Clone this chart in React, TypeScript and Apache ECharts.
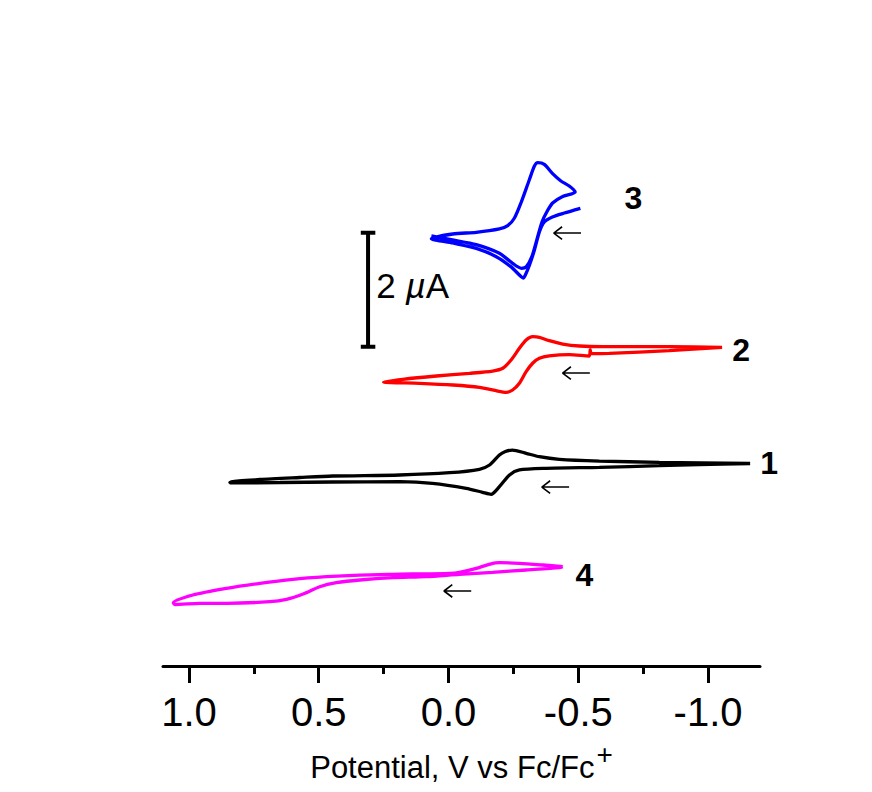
import React, { useEffect, useRef } from "react";
import * as echarts from "echarts";

// Potential (V vs Fc/Fc+) and offset current (µA) for each voltammogram
const POTENTIAL_3 = [-0.508, -0.446, -0.4, -0.369, -0.35, -0.331, -0.312, -0.296, -0.288, -0.277, -0.24, -0.184, -0.107, -0.016, 0.066, -0.016, -0.107, -0.196, -0.228, -0.254, -0.279, -0.311, -0.331, -0.344, -0.369, -0.401, -0.433, -0.465, -0.488, -0.438, -0.401, -0.379, -0.36, -0.34, -0.321, -0.30, -0.281, -0.247, -0.196, -0.107, -0.016, 0.066];
const CURRENT_3 = [8.03, 7.947, 7.877, 7.789, 7.614, 7.298, 7.035, 6.86, 6.807, 6.842, 7.006, 7.181, 7.327, 7.421, 7.497, 7.579, 7.608, 7.667, 7.725, 7.86, 8.123, 8.526, 8.772, 8.83, 8.8, 8.637, 8.509, 8.421, 8.316, 8.234, 8.123, 7.97, 7.79, 7.474, 7.181, 7.006, 6.977, 7.064, 7.24, 7.392, 7.474, 7.544];

const POTENTIAL_2 = [-1.054, -0.85, -0.619, -0.55, -0.546, -0.542, -0.465, -0.388, -0.35, -0.324, -0.299, -0.273, -0.247, -0.222, -0.183, -0.119, -0.017, 0.112, 0.25, 0.176, 0.047, -0.081, -0.17, -0.209, -0.241, -0.273, -0.299, -0.324, -0.35, -0.388, -0.44, -0.504, -0.593, -0.722, -0.85, -1.054];
const CURRENT_2 = [5.591, 5.532, 5.486, 5.482, 5.544, 5.439, 5.461, 5.439, 5.398, 5.311, 5.163, 4.96, 4.842, 4.802, 4.83, 4.889, 4.93, 4.96, 4.982, 5.03, 5.088, 5.135, 5.175, 5.223, 5.368, 5.574, 5.719, 5.777, 5.767, 5.707, 5.649, 5.614, 5.602, 5.602, 5.602, 5.591];

const POTENTIAL_1 = [-1.162, -0.965, -0.812, -0.581, -0.376, -0.273, -0.235, -0.196, -0.164, -0.131, -0.068, 0.062, 0.188, 0.446, 0.65, 0.842, 0.842, 0.727, 0.573, 0.446, 0.188, -0.004, -0.119, -0.158, -0.196, -0.219, -0.246, -0.299, -0.35, -0.427, -0.581, -0.812, -1.162];
const CURRENT_1 = [3.553, 3.535, 3.514, 3.486, 3.468, 3.439, 3.351, 3.146, 3.012, 3.047, 3.118, 3.205, 3.233, 3.228, 3.219, 3.211, 3.228, 3.272, 3.307, 3.333, 3.351, 3.391, 3.451, 3.526, 3.702, 3.763, 3.789, 3.732, 3.672, 3.626, 3.596, 3.574, 3.553];

const POTENTIAL_4 = [-0.44, -0.363, -0.273, -0.196, -0.17, -0.107, -0.042, -0.004, 0.215, 0.342, 0.47, 0.6, 0.727, 0.855, 0.985, 1.06, 1.054, 0.958, 0.855, 0.688, 0.624, 0.56, 0.496, 0.432, 0.342, 0.215, 0.086, -0.042, -0.17, -0.299, -0.427, -0.44];
const CURRENT_4 = [1.742, 1.772, 1.802, 1.812, 1.802, 1.714, 1.644, 1.626, 1.609, 1.596, 1.567, 1.521, 1.451, 1.363, 1.246, 1.111, 1.079, 1.1, 1.1, 1.128, 1.17, 1.263, 1.391, 1.461, 1.509, 1.549, 1.567, 1.609, 1.644, 1.684, 1.725, 1.742];

// Compound labels and scan-direction arrows (data coordinates)
const LABEL_TEXT = ["3", "2", "1", "4"];
const LABEL_X = [-0.712, -1.127, -1.235, -0.523];
const LABEL_Y = [8.211, 5.544, 3.561, 1.59];
const ARROW_X = [-0.458, -0.492, -0.412, -0.035];
const ARROW_Y = [7.596, 5.14, 3.14, 1.316];
const ARROW_LEN = 0.105; // V
const ARROW_HEAD_DX = 0.032; // V
const ARROW_HEAD_DY = 0.11; // µA

// 2 µA scale bar
const SCALE_X = 0.31;
const SCALE_BOTTOM = 5.6;
const SCALE_TOP = 7.6;
const SCALE_CAP = 0.028;
const SCALE_TEXT = "2 {mu|µ}A";

const MAJOR_TICKS = [-1.0, -0.5, 0.0, 0.5, 1.0];
const MINOR_TICKS = [-0.75, -0.25, 0.25, 0.75];
const X_MIN = -1.2;
const X_MAX = 1.1;

const FONT = "Liberation Sans, Arial, sans-serif";

const zip = (xs: number[], ys: number[]) => xs.map((x, i) => [x, ys[i]]);

export default function App() {
  const ref = useRef<HTMLDivElement>(null);
  useEffect(() => {
    if (!ref.current) return;
    const chart = echarts.init(ref.current, null, { renderer: "svg" });
    const cv = (xs: number[], ys: number[], color: string) => ({
      type: "line",
      data: zip(xs, ys),
      showSymbol: false,
      symbol: "none",
      smooth: 0.25,
      lineStyle: { color, width: 3.3 },
      silent: true,
    });
    const scalePath = [
      [SCALE_X - SCALE_CAP, SCALE_TOP],
      [SCALE_X + SCALE_CAP, SCALE_TOP],
      [SCALE_X, SCALE_TOP],
      [SCALE_X, SCALE_BOTTOM],
      [SCALE_X - SCALE_CAP, SCALE_BOTTOM],
      [SCALE_X + SCALE_CAP, SCALE_BOTTOM],
    ];
    const arrowSeries = ARROW_X.map((x, i) => {
      const y = ARROW_Y[i];
      const tip = x + ARROW_LEN / 2;
      const tail = x - ARROW_LEN / 2;
      return {
        type: "line",
        symbol: "none",
        silent: true,
        lineStyle: { color: "#000", width: 1.6 },
        data: [
          [tail, y],
          [tip, y],
          [tip - ARROW_HEAD_DX, y + ARROW_HEAD_DY],
          [tip, y],
          [tip - ARROW_HEAD_DX, y - ARROW_HEAD_DY],
        ],
      };
    });
    const textScatter = (data: any[], label: any) => ({
      type: "scatter",
      clip: false,
      symbolSize: 1,
      itemStyle: { color: "rgba(0,0,0,0)", opacity: 1 },
      silent: true,
      data,
      label: { show: true, opacity: 1, color: "#000", fontFamily: FONT, ...label },
    });
    chart.setOption({
      animation: false,
      backgroundColor: "#ffffff",
      grid: { left: 163, right: 112, top: 96, bottom: 126 },
      xAxis: [
        {
          type: "value",
          inverse: true,
          min: X_MIN,
          max: X_MAX,
          splitLine: { show: false },
          axisLine: { show: true, lineStyle: { color: "#000", width: 3 } },
          axisTick: { show: true, customValues: MAJOR_TICKS, length: 17, lineStyle: { color: "#000", width: 3 } },
          axisLabel: {
            customValues: MAJOR_TICKS,
            formatter: (v: number) => v.toFixed(1),
            fontSize: 40,
            fontFamily: FONT,
            color: "#000",
            margin: 26,
          },
          name: "Potential, V vs Fc/Fc{sup|+}",
          nameLocation: "middle",
          nameGap: 74,
          nameTextStyle: {
            fontSize: 31,
            fontFamily: FONT,
            color: "#000",
            rich: { sup: { fontSize: 28, fontFamily: FONT, color: "#000", padding: [0, 0, 26, 2] } },
          },
        },
        {
          type: "value",
          inverse: true,
          min: X_MIN,
          max: X_MAX,
          splitLine: { show: false },
          axisLine: { show: false },
          axisTick: { show: true, customValues: MINOR_TICKS, length: 8, lineStyle: { color: "#000", width: 3 } },
          axisLabel: { show: false },
          position: "bottom",
        },
      ],
      yAxis: { type: "value", min: 0, max: 10, show: false },
      series: [
        cv(POTENTIAL_1, CURRENT_1, "#000000"),
        cv(POTENTIAL_2, CURRENT_2, "#ff0000"),
        cv(POTENTIAL_3, CURRENT_3, "#0000ff"),
        cv(POTENTIAL_4, CURRENT_4, "#ff00ff"),
        {
          type: "line",
          data: scalePath,
          symbol: "none",
          lineStyle: { color: "#000", width: 4 },
          silent: true,
        },
        textScatter([{ value: [SCALE_X - 0.03, (SCALE_TOP + SCALE_BOTTOM) / 2 + 0.07] }], {
          position: "right",
          distance: 0,
          formatter: SCALE_TEXT,
          fontSize: 35,
          rich: { mu: { fontSize: 35, fontFamily: FONT, fontStyle: "italic", color: "#000" } },
        }),
        textScatter(
          LABEL_TEXT.map((t, i) => ({ name: t, value: [LABEL_X[i], LABEL_Y[i]] })),
          { position: "inside", formatter: (p: any) => p.name, fontSize: 32, fontWeight: "bold" }
        ),
        ...arrowSeries,
      ],
    });
    return () => chart.dispose();
  }, []);
  return <div ref={ref} style={{ position: "absolute", left: 0, top: 0, width: 872, height: 792 }} />;
}
